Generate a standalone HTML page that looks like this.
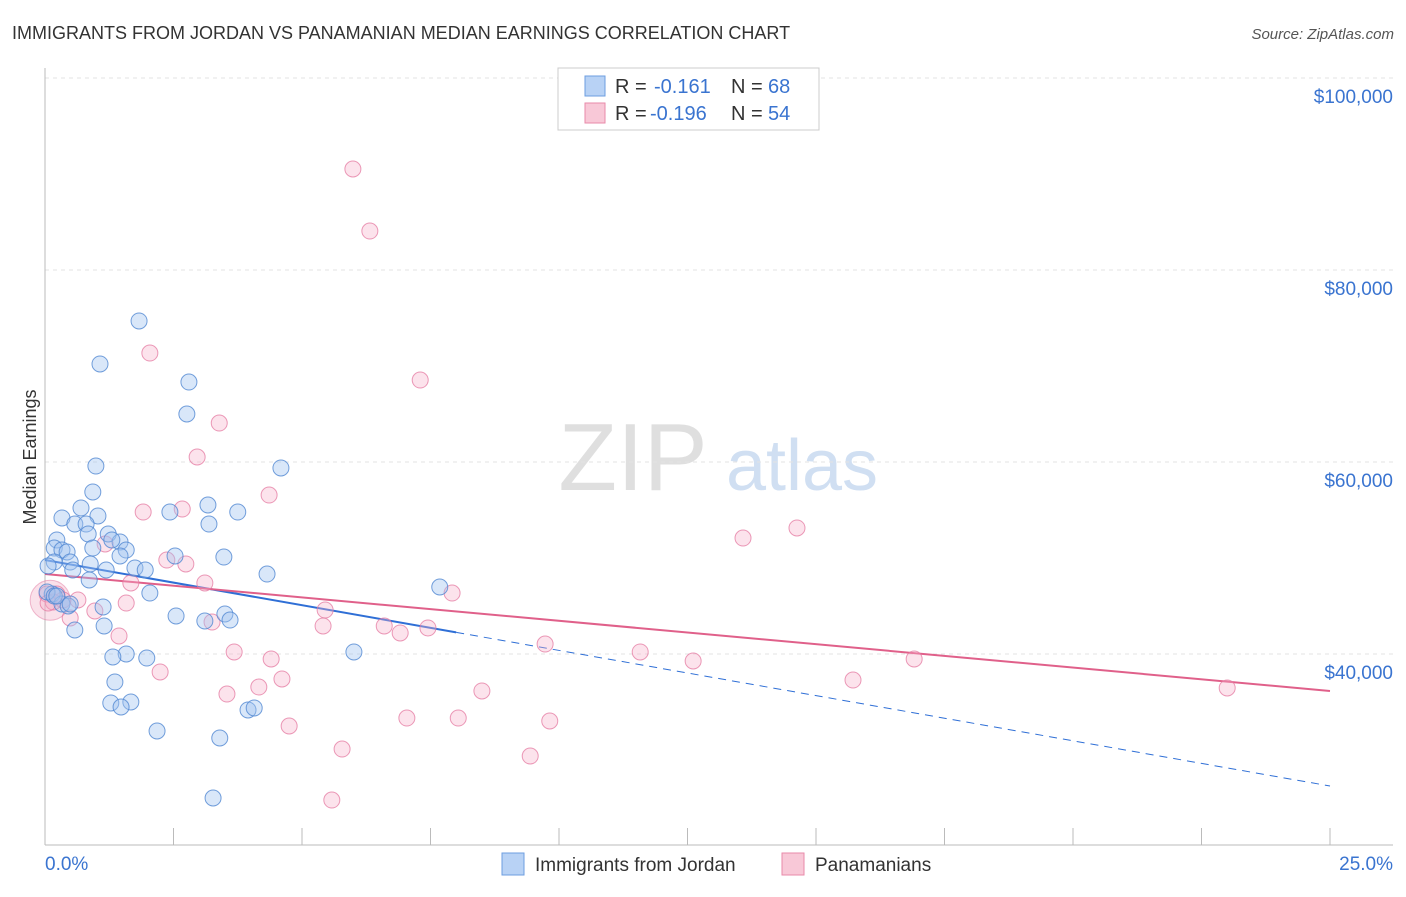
<!DOCTYPE html>
<html><head><meta charset="utf-8"><style>
body{margin:0;background:#fff;font-family:"Liberation Sans",sans-serif;}
svg text{font-family:"Liberation Sans",sans-serif;}
</style></head><body>
<svg id="c" width="1406" height="892" xmlns="http://www.w3.org/2000/svg">
<text x="12" y="39" font-size="18" fill="#333">IMMIGRANTS FROM JORDAN VS PANAMANIAN MEDIAN EARNINGS CORRELATION CHART</text>
<text x="1394" y="39" font-size="15" fill="#555" text-anchor="end" font-style="italic">Source: ZipAtlas.com</text>
<text x="36" y="457" font-size="18" fill="#333" text-anchor="middle" transform="rotate(-90 36 457)">Median Earnings</text>
<g><text x="633" y="490" font-size="96" fill="#d8d8d8" text-anchor="middle" font-family="Liberation Serif" opacity="0.8">ZIP</text><text x="802" y="490" font-size="72" fill="#c5d8f0" text-anchor="middle" opacity="0.8">atlas</text></g>
<g id="grid"></g><g id="axes"></g><g id="lines"></g><g id="pts"></g>
<g>
<rect x="558" y="68" width="261" height="62" fill="#fff" stroke="#ccc"/>
<rect x="585" y="76" width="20" height="20" fill="#b8d2f5" stroke="#6d9ee0"/>
<text x="615" y="93" font-size="20" fill="#333">R =</text>
<text x="654" y="93" font-size="20" fill="#3a74d0">-0.161</text>
<text x="731" y="93" font-size="20" fill="#333">N =</text>
<text x="768" y="93" font-size="20" fill="#3a74d0">68</text>
<rect x="585" y="103" width="20" height="20" fill="#f8c8d7" stroke="#e88aaa"/>
<text x="615" y="120" font-size="20" fill="#333">R =</text>
<text x="650" y="120" font-size="20" fill="#3a74d0">-0.196</text>
<text x="731" y="120" font-size="20" fill="#333">N =</text>
<text x="768" y="120" font-size="20" fill="#3a74d0">54</text>
</g>
<g>
<rect x="502" y="853" width="22" height="22" fill="#b8d2f5" stroke="#6d9ee0"/>
<text x="535" y="871" font-size="19" fill="#333">Immigrants from Jordan</text>
<rect x="782" y="853" width="22" height="22" fill="#f8c8d7" stroke="#e88aaa"/>
<text x="815" y="871" font-size="19" fill="#333">Panamanians</text>
</g>
</svg>
<script>
const yTicks=[40000,60000,80000,100000];
const yTickLabels=["$40,000","$60,000","$80,000","$100,000"];
const xEnds=[0,25];
const xEndLabels=["0.0%","25.0%"];
const blueX=[1.83,1.07,2.80,2.76,0.99,4.59,0.93,3.17,0.70,2.43,3.75,0.33,1.03,0.58,0.80,3.19,1.23,0.84,0.23,1.46,1.30,0.18,0.33,0.93,1.58,0.43,1.46,2.53,3.48,0.18,0.49,0.88,0.06,1.75,1.19,1.95,0.54,4.32,0.86,2.04,7.68,0.14,0.04,0.33,0.45,1.13,2.55,3.50,3.11,3.60,1.15,0.58,1.58,1.32,6.01,1.98,1.36,1.28,1.67,1.48,3.95,4.07,2.18,3.40,3.27,0.18,0.23,0.49];
const blueY=[74690,70210,68330,65000,59580,59380,56880,55520,55210,54790,54790,54170,54380,53540,53540,53540,52500,52500,51880,51670,51880,51040,50830,51040,50830,50630,50210,50210,50100,49580,49580,49380,49170,48960,48750,48750,48750,48330,47710,46350,46980,46250,46460,45210,45000,44900,43960,44170,43440,43540,42920,42500,40000,39690,40210,39580,37080,34900,35000,34480,34170,34380,31980,31250,25000,46040,46040,45210];
const pinkX=[5.99,6.32,2.04,7.30,3.39,2.96,4.36,2.67,1.91,14.63,13.58,1.17,2.37,2.74,1.67,3.11,7.92,0.04,0.23,0.64,1.58,0.35,0.16,5.45,0.97,0.49,3.25,5.41,7.45,6.60,6.91,1.44,9.73,3.68,11.58,12.61,4.40,2.24,4.61,15.72,16.91,23.00,4.16,3.54,8.50,7.04,8.04,9.82,4.75,5.78,9.44,5.58,0.06];
const pinkY=[90520,84060,71350,68540,64060,60520,56560,55100,54790,53130,52080,51460,49790,49380,47400,47400,46350,46250,46250,45630,45310,45630,45420,44580,44480,43750,43330,42920,42710,42920,42190,41880,41040,40210,40210,39270,39480,38130,37400,37290,39480,36460,36560,35830,36150,33330,33330,33020,32500,30100,29370,24790,45310];
const blueTrend=[49790,26250];
const pinkTrend=[48330,36150];
const blueSolidEnd=8.0;
const NS="http://www.w3.org/2000/svg";
const X=p=>45+p*51.4;
const Y=v=>654-(v-40000)*0.0096;
function mk(t,a,parent){const e=document.createElementNS(NS,t);for(const k in a)e.setAttribute(k,a[k]);document.getElementById(parent).appendChild(e);return e;}
yTicks.forEach((v,i)=>{
 const l=mk('line',{x1:45,x2:1393,y1:Y(v),y2:Y(v),stroke:'#e3e3e3','stroke-dasharray':'4,4'},'grid');
 
 
 const t=mk('text',{x:1393,y:Y(v)+25,'font-size':19,fill:'#3a74d0','text-anchor':'end'},'axes');
 t.textContent=yTickLabels[i];
 
 
});
const ax=mk('line',{x1:45,x2:1393,y1:845,y2:845,stroke:'#bbb'},'axes');


const ay=mk('line',{x1:45,x2:45,y1:68,y2:845,stroke:'#bbb'},'axes');


for(let i=0;i<=10;i++){const tk=mk('line',{x1:X(i*2.5),x2:X(i*2.5),y1:828,y2:845,stroke:'#bbb'},'axes');
 
 }
xEnds.forEach((p,i)=>{const t=mk('text',{x:i?1393:45,y:870,'font-size':19,fill:'#3a74d0','text-anchor':i?'end':'start'},'axes');
 t.textContent=xEndLabels[i];
 
 });
const bt=p=>blueTrend[0]+(blueTrend[1]-blueTrend[0])*p/25;
const pt=p=>pinkTrend[0]+(pinkTrend[1]-pinkTrend[0])*p/25;
let e=mk('line',{x1:X(0),y1:Y(bt(0)),x2:X(blueSolidEnd),y2:Y(bt(blueSolidEnd)),stroke:'#2f6fd6','stroke-width':2},'lines');


e=mk('line',{x1:X(blueSolidEnd),y1:Y(bt(blueSolidEnd)),x2:X(25),y2:Y(bt(25)),stroke:'#2f6fd6','stroke-width':1,'stroke-dasharray':'8,6'},'lines');


e=mk('line',{x1:X(0),y1:Y(pt(0)),x2:X(25),y2:Y(pt(25)),stroke:'#e0608a','stroke-width':2},'lines');


e=mk('circle',{cx:X(0.1),cy:Y(45600),r:20,fill:'rgba(240,170,195,0.35)',stroke:'rgba(225,120,160,0.5)'},'pts');


pinkX.forEach((p,i)=>{const c=mk('circle',{cx:X(p),cy:Y(pinkY[i]),r:8,fill:'rgba(245,175,200,0.35)',stroke:'rgba(228,120,160,0.75)'},'pts');
 
 });
blueX.forEach((p,i)=>{const c=mk('circle',{cx:X(p),cy:Y(blueY[i]),r:8,fill:'rgba(160,195,240,0.4)',stroke:'rgba(80,135,210,0.8)'},'pts');
 
 });
</script>
</body></html>
